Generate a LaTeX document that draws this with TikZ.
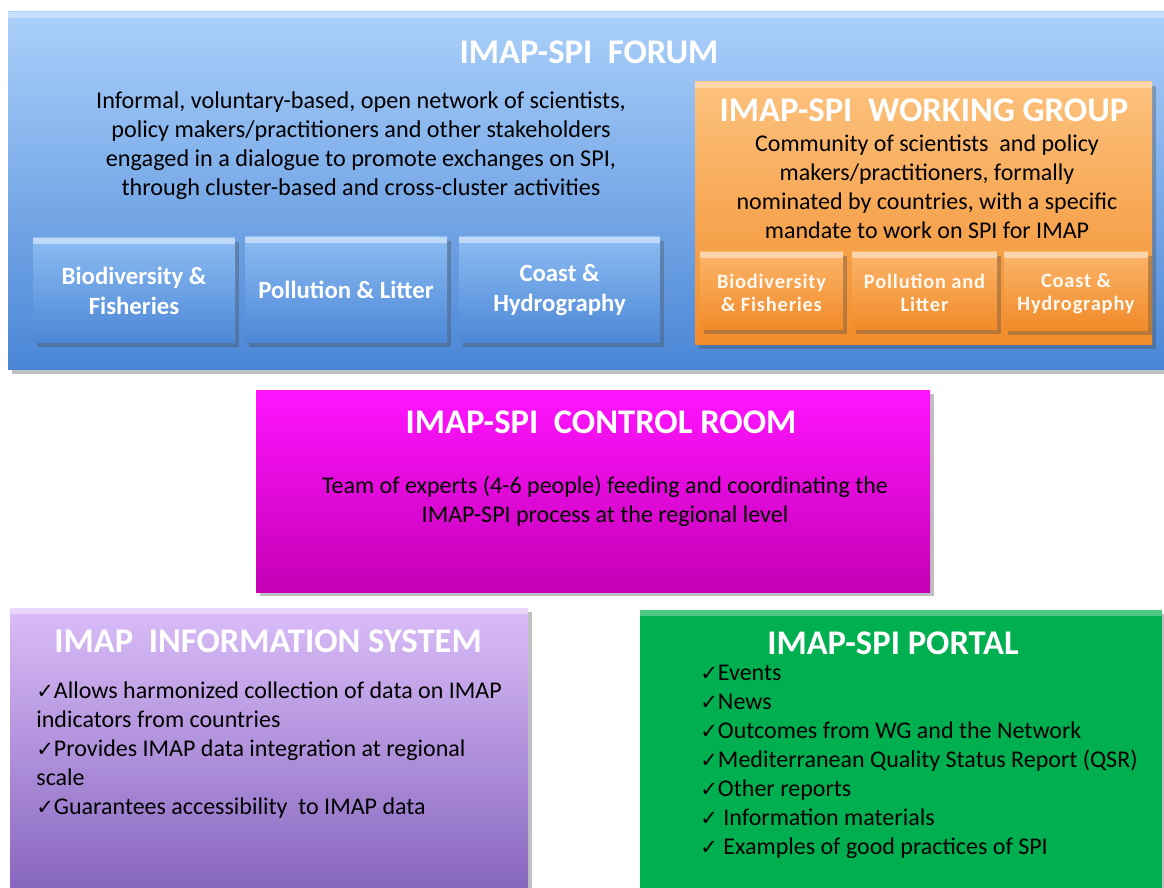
\documentclass[tikz,border=0pt]{standalone}
\usepackage{fontspec}
\setmainfont{Carlito}
\newfontfamily\symf{DejaVu Sans}
\usetikzlibrary{shadows,fit}
\newcommand{\ck}{{\symf\fontsize{10.5}{10}\selectfont ✓}}
\definecolor{forumtop}{HTML}{ABD0FA}
\definecolor{forumbot}{HTML}{4A86D6}
\definecolor{subtop}{HTML}{8CBCF2}
\definecolor{subbot}{HTML}{4C87D6}
\definecolor{wgtop}{HTML}{FCC27E}
\definecolor{wgbot}{HTML}{F28C2A}
\definecolor{wgsubtop}{HTML}{FBB56A}
\definecolor{wgsubbot}{HTML}{F18A28}
\definecolor{crtop}{HTML}{FF14FF}
\definecolor{crbot}{HTML}{C400B4}
\definecolor{istop}{HTML}{DABDF8}
\definecolor{isbot}{HTML}{8463BC}
\definecolor{portal}{HTML}{00B050}
\tikzset{
  x=0.5pt, y=-0.5pt,
  shad/.style={drop shadow={shadow xshift=2pt, shadow yshift=-2pt, opacity=0.35, fill=black!70}},
  hilite/.style={path picture={\fill[white,opacity=#1] (path picture bounding box.north west) rectangle ([yshift=-3pt]path picture bounding box.north east);}},
  panel/.style={inner sep=0pt, draw=none, shad},
  forumbox/.style={panel, top color=forumtop, bottom color=forumbot, hilite=0.35},
  subblue/.style={panel, top color=subtop, bottom color=subbot, hilite=0.45},
  bluelabel/.style={inner sep=0pt, text=white, align=center, font=\fontsize{12.4}{15}\selectfont\bfseries},
  wgbox/.style={panel, top color=wgtop, bottom color=wgbot, hilite=0.35},
  suborange/.style={panel, top color=wgsubtop, bottom color=wgsubbot, hilite=0.45},
  orangelabel/.style={inner sep=0pt, text=white!95!orange, align=center,
     font=\fontsize{10.2}{11.8}\selectfont\bfseries\addfontfeatures{LetterSpace=4}},
  crbox/.style={panel, top color=crtop, bottom color=crbot},
  isbox/.style={panel, top color=istop, bottom color=isbot, hilite=0.4},
  portalbox/.style={panel, fill=portal, hilite=0.3},
  titletext/.style={inner sep=0pt, text=white, font=\fontsize{17.3}{20}\selectfont\bfseries},
  bodytext/.style={inner sep=0pt, text=black, font=\fontsize{12}{14.5}\selectfont},
}
\begin{document}
\begin{tikzpicture}
\useasboundingbox (0,0) rectangle (1164,888);
\fill[white] (0,0) rectangle (1164,888);
\clip (0,0) rectangle (1164,888);

% Forum
\node[forumbox, fit={(8,12) (1164,370)}] (forum) {};
\node[titletext] (forumtitle) at (589,52) {IMAP-SPI~~FORUM};
\node[bodytext, align=center, font=\fontsize{12.1}{14.5}\selectfont] (forumdesc) at (361,146) {Informal, voluntary-based, open network of scientists,\\policy makers/practitioners and other stakeholders\\engaged in a dialogue to promote exchanges on SPI,\\through cluster-based and cross-cluster activities};
\node[subblue, fit={(33,238) (235,343)}] (fbio) {};
\node[subblue, fit={(245,237) (447,343)}] (fpol) {};
\node[subblue, fit={(459,237) (660,343)}] (fcoa) {};
\node[bluelabel] (fbiot) at (fbio.center) {Biodiversity \&\\Fisheries};
\node[bluelabel] (fpolt) at (fpol.center) {Pollution \& Litter};
\node[bluelabel] (fcoat) at (fcoa.center) {Coast \&\\Hydrography};

% Working group
\node[wgbox, fit={(695,82) (1152,345)}] (wg) {};
\node[titletext] (wgtitle) at (924,110) {IMAP-SPI~~WORKING GROUP};
\node[bodytext, align=center] (wgdesc) at (927,187) {Community of scientists~ and policy\\makers/practitioners, formally\\nominated by countries, with a specific\\mandate to work on SPI for IMAP};
\node[suborange, fit={(700,252) (843,330)}] (wbio) {};
\node[suborange, fit={(852,252) (997,330)}] (wpol) {};
\node[suborange, fit={(1004,252) (1148,331)}] (wcoa) {};
\node[orangelabel] (wbiot) at ([yshift=-1pt]wbio.center) {Biodiversity\\\& Fisheries};
\node[orangelabel] (wpolt) at ([yshift=-1pt]wpol.center) {Pollution and\\Litter};
\node[orangelabel] (wcoat) at ([yshift=-1pt]wcoa.center) {Coast \&\\Hydrography};

% Control room
\node[crbox, fit={(256,390) (930,592)}] (cr) {};
\node[titletext] (crtitle) at (601,422) {IMAP-SPI~~CONTROL ROOM};
\node[bodytext, align=center] (crdesc) at (605,501) {Team of experts (4-6 people) feeding and coordinating the\\IMAP-SPI process at the regional level};

% Information system
\node[isbox, fit={(10,608) (528,900)}] (is) {};
\node[titletext] (istitle) at (268,641) {IMAP~~INFORMATION SYSTEM};
\node[bodytext, align=left, anchor=north west] (isdesc) at (36,681) {\ck Allows harmonized collection of data on IMAP\\indicators from countries\\\ck Provides IMAP data integration at regional\\scale\\\ck Guarantees accessibility~ to IMAP data};

% Portal
\node[portalbox, fit={(640,610) (1162,900)}] (portal) {};
\node[titletext] (ptitle) at (893,643) {IMAP-SPI PORTAL};
\node[bodytext, align=left, anchor=north west] (pdesc) at (700,665) {\ck Events\\\ck News\\\ck Outcomes from WG and the Network\\\ck Mediterranean Quality Status Report (QSR)\\\ck Other reports\\\ck\ Information materials\\\ck\ Examples of good practices of SPI};
\end{tikzpicture}
\end{document}
